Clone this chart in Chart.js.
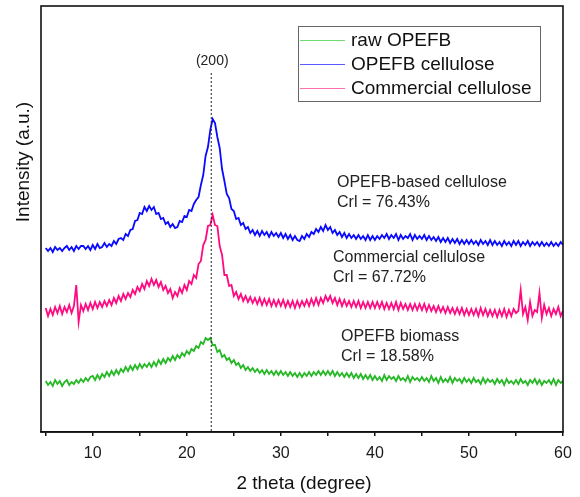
<!DOCTYPE html>
<html><head><meta charset="utf-8">
<script src="https://cdn.jsdelivr.net/npm/chart.js@4/dist/chart.umd.min.js"></script>
<style>html,body{margin:0;padding:0;background:#fff}#wrap{width:580px;height:497px}</style>
</head><body><div id="wrap"><canvas id="c" width="580" height="497"></canvas></div>
<script>
// 2-theta sampling grid (degrees): first angle and step of the scan
const thetaStart = 5;
const thetaStep = 0.25;
const xTicks = [5,10,15,20,25,30,35,40,45,50,55,60];
const xTickLabels = ['', '10', '', '20', '', '30', '', '40', '', '50', '', '60'];
const seriesNames = ['raw OPEFB', 'OPEFB cellulose', 'Commercial cellulose'];
const peakLabel = '(200)';
const peakTheta = 22.6;
const sampleLabels = [
  ['OPEFB-based cellulose', 'Crl = 76.43%'],
  ['Commercial cellulose', 'Crl = 67.72%'],
  ['OPEFB biomass', 'Crl = 18.58%']
];

// Intensity (a.u., stacked offsets as in the figure)
const opefbCellulose = [
184,181,184,180,185,182,184,181,184,186,182,185,181,186,183,186,186,183,186,182,
187,183,188,184,185,189,185,188,
186,191,188,193,
194,192,198,196,
202,203,211,212,
219,218,225,221,
226,222,225,218,
219,213,214,208,
210,205,208,204,
205,211,210,216,
215,222,221,228,
232,235,247,257,
276,285,302,313,
309,295,284,263,
251,238,234,223,
221,213,214,207,
209,203,205,199,
202,197,201,196,
201,197,200,195,200,196,199,195,
199,194,198,193,197,192,196,192,
191,196,193,198,
195,200,198,203,
200,205,201,207,
202,205,199,202,
197,200,195,199,
194,198,194,197,193,197,193,196,192,197,192,196,
192,196,193,197,194,198,193,197,194,198,192,197,193,196,194,198,192,197,193,196,
193,197,192,196,192,195,191,195,190,194,190,194,189,193,189,193,188,192,188,192,
188,192,188,191,187,192,188,191,187,192,187,191,187,190,186,191,187,190,186,191,
187,191,186,190,187,191,186,190,187,190,186,190,186,189,186,190,186,189,186,190,187
];
const commercialCellulose = [
124,116,123,117,125,119,126,118,125,120,127,119,
126,147,110,127,121,128,122,129,
123,130,124,130,125,131,126,132,
127,134,129,136,131,138,133,139,
135,142,138,145,
141,148,143,151,
146,153,147,152,
145,150,142,146,
139,143,134,140,
136,144,139,147,
142,151,148,157,
154,168,171,187,
192,206,207,217,
207,206,186,177,
157,157,146,147,
136,140,133,138,
131,136,130,135,129,134,128,134,
127,133,127,133,126,132,126,132,
126,132,125,131,125,131,124,131,
125,131,126,132,126,133,127,134,
127,134,129,136,
131,136,129,134,
127,133,126,132,126,131,125,131,125,131,124,130,124,130,124,130,
124,130,124,130,123,129,123,129,123,130,122,129,123,128,122,128,122,128,122,128,
122,128,121,127,121,126,120,126,120,125,119,125,119,124,118,124,118,124,117,123,
117,123,117,123,116,124,117,123,116,122,116,122,115,122,116,123,115,122,116,123,
119,121,142,118,125,112,130,116,122,120,139,114,127,118,124,116,123,118,125,116,121
];
const rawOpefb = [
51,47,50,46,52,48,51,46,50,52,47,50,48,52,49,53,50,54,51,55,
56,52,57,53,58,55,60,56,
61,57,62,58,63,60,65,61,
66,62,67,63,68,64,68,65,
69,65,70,66,72,68,73,69,
74,71,76,72,77,74,79,76,
81,78,83,81,
86,84,90,88,
94,92,94,87,
87,80,82,75,
77,72,74,69,
72,67,69,64,
67,62,65,61,64,60,63,59,
62,58,62,58,61,57,61,57,
61,57,60,56,60,56,59,55,
59,55,59,56,60,56,60,57,61,57,61,57,
61,57,61,56,60,56,59,55,
59,55,59,54,58,54,58,53,57,53,57,52,
56,52,55,51,57,52,56,53,55,51,56,52,54,51,56,50,55,52,54,51,
55,51,54,50,56,51,54,49,55,50,53,50,55,49,54,51,53,49,54,50,
53,49,54,50,52,48,54,49,53,50,52,48,53,49,52,47,53,49,51,48,
52,48,53,49,51,47,52,49,53,48,52,47,51,49,52,48,53,47,52,49,51
];

function toPoints(arr) {
  return arr.map((v, i) => ({ x: thetaStart + i * thetaStep, y: v }));
}

const FONT = '"Liberation Sans", Arial, sans-serif';

const decor = {
  id: 'decor',
  afterDatasetsDraw(chart) {
    const ctx = chart.ctx;
    const a = chart.chartArea;
    const xs = chart.scales.x, ys = chart.scales.y;
    ctx.save();
    // dotted (200) marker
    const px = xs.getPixelForValue(peakTheta);
    ctx.strokeStyle = '#222';
    ctx.lineWidth = 1;
    ctx.setLineDash([2, 2]);
    ctx.beginPath();
    ctx.moveTo(px, ys.getPixelForValue(359));
    ctx.lineTo(px, a.bottom);
    ctx.stroke();
    ctx.setLineDash([]);
    ctx.fillStyle = '#222';
    ctx.font = '14px ' + FONT;
    ctx.textAlign = 'center';
    ctx.textBaseline = 'middle';
    ctx.fillText(peakLabel, px + 1, 61);
    ctx.restore();
  },
  afterDraw(chart) {
    const ctx = chart.ctx;
    const a = chart.chartArea;
    ctx.save();
    // frame
    ctx.strokeStyle = '#111';
    ctx.lineWidth = 1.6;
    ctx.strokeRect(a.left, a.top, a.right - a.left, a.bottom - a.top);

    // sample annotations
    ctx.fillStyle = '#222';
    ctx.font = '16px ' + FONT;
    ctx.textAlign = 'left';
    ctx.textBaseline = 'middle';
    const pos = [[337, 183], [333, 258], [341, 337]];
    sampleLabels.forEach((lines, k) => {
      ctx.fillText(lines[0], pos[k][0], pos[k][1]);
      ctx.fillText(lines[1], pos[k][0], pos[k][1] + 20);
    });

    // legend
    ctx.fillStyle = '#fff';
    ctx.fillRect(298, 26, 242, 75);
    ctx.strokeStyle = '#666';
    ctx.lineWidth = 1;
    ctx.strokeRect(298.5, 26.5, 242, 75);
    const legendColors = ['#6fdc6f', '#5a5aff', '#ff6fb0'];
    const rows = [40, 64, 88];
    seriesNames.forEach((n, k) => {
      ctx.strokeStyle = legendColors[k];
      ctx.lineWidth = 1;
      ctx.beginPath();
      ctx.moveTo(300, rows[k] + 0.5);
      ctx.lineTo(345, rows[k] + 0.5);
      ctx.stroke();
      ctx.fillStyle = '#111';
      ctx.font = '19px ' + FONT;
      ctx.textAlign = 'left';
      ctx.textBaseline = 'middle';
      ctx.fillText(n, 351, rows[k] + 1);
    });

    // axis titles
    ctx.fillStyle = '#111';
    ctx.font = '19px ' + FONT;
    ctx.textAlign = 'center';
    ctx.textBaseline = 'middle';
    ctx.fillText('2 theta (degree)', 304, 484);
    ctx.translate(24, 162);
    ctx.rotate(-Math.PI / 2);
    ctx.fillText('Intensity (a.u.)', 0, 0);
    ctx.restore();
  }
};

new Chart(document.getElementById('c'), {
  type: 'line',
  data: {
    datasets: [
      { label: seriesNames[1], data: toPoints(opefbCellulose), borderColor: '#0a0aff', borderWidth: 1.8 },
      { label: seriesNames[2], data: toPoints(commercialCellulose), borderColor: '#ff0a80', borderWidth: 1.8 },
      { label: seriesNames[0], data: toPoints(rawOpefb), borderColor: '#27b827', borderWidth: 1.8 }
    ]
  },
  options: {
    responsive: false,
    animation: false,
    devicePixelRatio: 1,
    elements: { point: { radius: 0 }, line: { tension: 0 } },
    layout: { padding: { left: 41, right: 17, top: 6, bottom: 0 } },
    plugins: { legend: { display: false }, tooltip: { enabled: false } },
    scales: {
      x: {
        type: 'linear', min: 4.5, max: 60,
        afterBuildTicks: s => { s.ticks = xTicks.map(v => ({ value: v })); },
        afterFit: s => { s.height = 65; },
        grid: { drawOnChartArea: false, drawTicks: true, tickLength: 4, color: '#111', lineWidth: 1.5 },
        border: { display: true, color: '#111', width: 1.5 },
        ticks: {
          autoSkip: false, maxRotation: 0, padding: 8, color: '#1a1a1a',
          font: { family: FONT, size: 16 },
          callback: (v, i) => xTickLabels[i]
        }
      },
      y: { type: 'linear', min: 0, max: 426, display: false }
    }
  },
  plugins: [decor]
});
</script>
</body></html>
